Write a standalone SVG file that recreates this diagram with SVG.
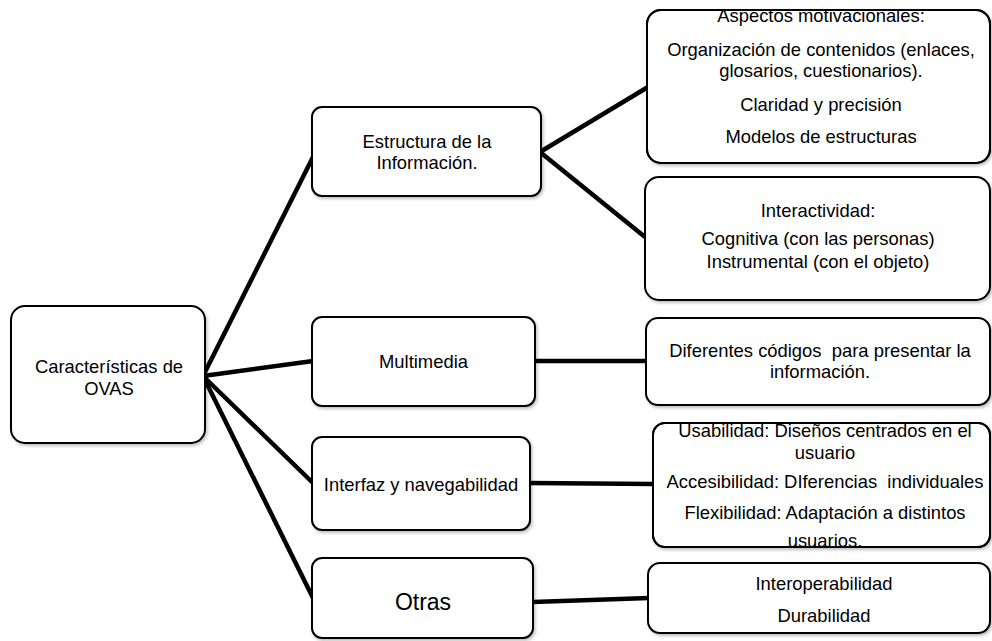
<svg xmlns="http://www.w3.org/2000/svg" width="992" height="641" viewBox="0 0 992 641">
  <style>
    .box { fill: #ffffff; stroke: #000000; stroke-width: 2; filter: url(#shadow); }
    .outline { fill: none; stroke: #000000; stroke-width: 2; }
    .edge { fill: none; stroke: #000000; stroke-width: 4.5; stroke-linecap: butt; }
    text { font-family: "Liberation Sans", Arial, sans-serif; font-size: 18.4px; fill: #000000; text-anchor: middle; white-space: pre; }
    .big { font-size: 23px; }
  </style>
  <defs>
    <filter id="shadow" x="-5%" y="-5%" width="112%" height="115%">
      <feDropShadow dx="1.5" dy="2" stdDeviation="1.5" flood-color="#000000" flood-opacity="0.25"/>
    </filter>
    <!-- text of overfull boxes is cut at the box edge -->
    <clipPath id="clip-aspectos"><rect x="647" y="10" width="343" height="153"/></clipPath>
    <clipPath id="clip-usabilidad"><rect x="653" y="423" width="337" height="124"/></clipPath>
  </defs>

  <rect width="992" height="641" fill="#ffffff"/>

  <!-- connectors -->
  <g id="connectors">
    <line class="edge" x1="203" y1="376" x2="313" y2="157"/>
    <line class="edge" x1="203" y1="376" x2="313" y2="361"/>
    <line class="edge" x1="203" y1="376" x2="313" y2="483"/>
    <line class="edge" x1="203" y1="376" x2="313" y2="598"/>
    <line class="edge" x1="540" y1="152" x2="648" y2="87"/>
    <line class="edge" x1="540" y1="152" x2="645" y2="237"/>
    <line class="edge" x1="535" y1="361" x2="646" y2="361"/>
    <line class="edge" x1="529" y1="483" x2="654" y2="484"/>
    <line class="edge" x1="533" y1="602" x2="649" y2="598"/>
  </g>

  <!-- root -->
  <g id="node-caracteristicas">
    <rect class="box" x="11" y="306" width="194" height="137" rx="14"/>
    <text x="109" y="373">Características de</text>
    <text x="109" y="395">OVAS</text>
  </g>

  <!-- second level -->
  <g id="node-estructura">
    <rect class="box" x="312" y="107" width="229" height="89" rx="10"/>
    <text x="427" y="148">Estructura de la</text>
    <text x="427" y="169">Información.</text>
  </g>

  <g id="node-multimedia">
    <rect class="box" x="312" y="317" width="223" height="89" rx="10"/>
    <text x="423.5" y="368">Multimedia</text>
  </g>

  <g id="node-interfaz">
    <rect class="box" x="312" y="437" width="218" height="93" rx="10"/>
    <text x="421" y="491">Interfaz y navegabilidad</text>
  </g>

  <g id="node-otras">
    <rect class="box" x="312" y="558" width="221" height="80" rx="10"/>
    <text class="big" x="423" y="610">Otras</text>
  </g>

  <!-- third level -->
  <g id="node-aspectos">
    <rect class="box" x="647" y="10" width="343" height="153" rx="14"/>
    <g clip-path="url(#clip-aspectos)">
      <text x="821" y="22">Aspectos motivacionales:</text>
    </g>
    <text x="821" y="56">Organización de contenidos (enlaces,</text>
    <text x="821" y="77">glosarios, cuestionarios).</text>
    <text x="821" y="111">Claridad y precisión</text>
    <text x="821" y="143">Modelos de estructuras</text>
    <rect class="outline" x="647" y="10" width="343" height="153" rx="14"/>
  </g>

  <g id="node-interactividad">
    <rect class="box" x="645" y="177" width="345" height="123" rx="14"/>
    <text x="818" y="217">Interactividad:</text>
    <text x="818" y="245">Cognitiva (con las personas)</text>
    <text x="818" y="268">Instrumental (con el objeto)</text>
  </g>

  <g id="node-diferentes">
    <rect class="box" x="646" y="318" width="344" height="87" rx="12"/>
    <text x="820" y="357">Diferentes códigos  para presentar la</text>
    <text x="820" y="378">información.</text>
  </g>

  <g id="node-usabilidad">
    <rect class="box" x="653" y="423" width="337" height="124" rx="12"/>
    <text x="825" y="437">Usabilidad: Diseños centrados en el</text>
    <text x="825" y="459">usuario</text>
    <text x="825" y="488">Accesibilidad: DIferencias  individuales</text>
    <text x="825" y="519">Flexibilidad: Adaptación a distintos</text>
    <g clip-path="url(#clip-usabilidad)">
      <text x="825" y="547">usuarios.</text>
    </g>
    <rect class="outline" x="653" y="423" width="337" height="124" rx="12"/>
  </g>

  <g id="node-interoperabilidad">
    <rect class="box" x="648" y="563" width="342" height="70" rx="12"/>
    <text x="824" y="590">Interoperabilidad</text>
    <text x="824" y="622">Durabilidad</text>
  </g>
</svg>
